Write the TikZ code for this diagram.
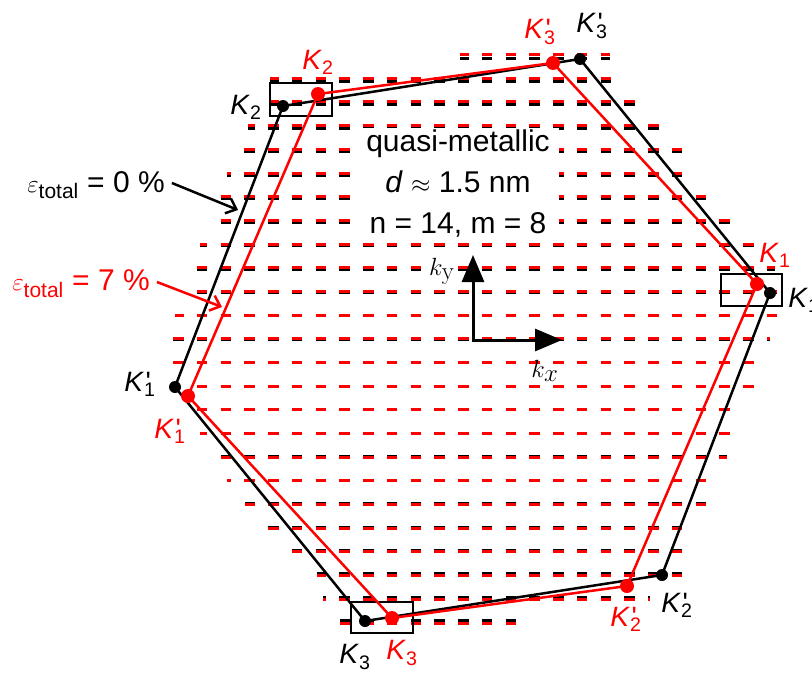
\documentclass[tikz,border=0pt]{standalone}
\usepackage{amsmath}
\usepackage[no-math]{fontspec}
\setmainfont{Liberation Sans}
\usetikzlibrary{arrows.meta}

% labels of the K points
\newcommand{\Kn}[1]{\textit{K}$_{\text{#1}}$}
\newcommand{\Kp}[1]{\textit{K}\rlap{\kern1.5pt\textquotesingle}$_{\text{#1}}$}

\tikzset{
  lab/.style={font=\fontsize{28}{34}\selectfont, inner sep=0pt},
  bcut/.style={black, line width=3pt, dash pattern=on 10.5pt off 13.25pt},
  rcut/.style={red, line width=3pt, dash pattern=on 10.5pt off 13.25pt},
  bzone/.style={black, line width=2.5pt, line join=round},
  rzone/.style={red, line width=2.5pt, line join=round},
  bdot/.style={circle, fill=black, inner sep=0pt, minimum size=12pt},
  rdot/.style={circle, fill=red, inner sep=0pt, minimum size=14pt},
  markbox/.style={black, line width=1.8pt},
  epsarrow/.style={line width=2.5pt, -{Straight Barb[length=9pt,width=16pt]}},
  axisarrow/.style={line width=3pt, {Triangle[length=27pt,width=22pt]}-{Triangle[length=27pt,width=22pt]}}
}

\begin{document}
\begin{tikzpicture}[x=1pt, y=-1pt]
    \useasboundingbox (0,0) rectangle (812,675);

    % Lignes de coupure (noir : 0 %, rouge : 7 %)
    \foreach \i/\xl/\xr in {0/460/610, 1/270/618, 2/270/640, 3/248/662, 4/243/682,
        5/227/688, 6/220/712, 7/220/735, 8/200/757, 9/195/775, 10/195/780,
        11/175/780, 12/170/770, 13/172/765, 14/190/758, 15/197/738, 16/200/735,
        17/220/727, 18/227/712, 19/245/712, 20/268/688, 21/292/688, 22/317/682,
        23/323/650, 24/340/520} {
        \pgfmathsetmacro\yb{58+\i*23.45}
        \pgfmathsetmacro\yr{400+(\yb-400)*1.01}
        \pgfmathsetmacro\ph{\xl-149.25}
        \draw[bcut, dash phase=\ph pt] (\xl,\yb) -- (\xr,\yb);
        \draw[rcut, dash phase=\ph pt] (\xl,\yr) -- (\xr,\yr);
    }

    % Points K (0 %)
    \coordinate (bK2) at (283,106);
    \coordinate (bK3p) at (580,59);
    \coordinate (bK1) at (770,293);
    \coordinate (bK2p) at (662,575);
    \coordinate (bK3) at (365,621);
    \coordinate (bK1p) at (175,387);

    % Points K (7 %)
    \coordinate (rK2) at (318,94);
    \coordinate (rK3p) at (553,63);
    \coordinate (rK1) at (757,284);
    \coordinate (rK2p) at (627,586);
    \coordinate (rK3) at (392,618);
    \coordinate (rK1p) at (188,396);

    % Cadres autour des points K
    \draw[markbox] (270,83) rectangle (332,116);
    \draw[markbox] (721,274) rectangle (782,306);
    \draw[markbox] (351,602) rectangle (413,633);

    % Zone de Brillouin
    \draw[bzone] (bK2) -- (bK3p) -- (bK1) -- (bK2p) -- (bK3) -- (bK1p) -- cycle;
    \foreach \p in {bK2, bK3p, bK1, bK2p, bK3, bK1p}
        \node[bdot] (d\p) at (\p) {};
    \draw[rzone] (rK2) -- (rK3p) -- (rK1) -- (rK2p) -- (rK3) -- (rK1p) -- cycle;
    \foreach \p in {rK2, rK3p, rK1, rK2p, rK3, rK1p}
        \node[rdot] (d\p) at (\p) {};

    % Etiquettes
    \node[lab] (lbK2) at (246,107) {\Kn{2}};
    \node[lab, red] (lrK2) at (318,62) {\Kn{2}};
    \node[lab, red] (lrK3p) at (540,32) {\Kp{3}};
    \node[lab] (lbK3p) at (592,26) {\Kp{3}};
    \node[lab, red] (lrK1) at (775,255) {\Kn{1}};
    \node[lab] (lbK1) at (804,300) {\Kn{1}};
    \node[lab] (lbK1p) at (140,384) {\Kp{1}};
    \node[lab, red] (lrK1p) at (170,431) {\Kp{1}};
    \node[lab] (lbK3) at (355,657) {\Kn{3}};
    \node[lab, red] (lrK3) at (402,653) {\Kn{3}};
    \node[lab, red] (lrK2p) at (626,619) {\Kp{2}};
    \node[lab] (lbK2p) at (677,605) {\Kp{2}};

    % Texte central
    \node[lab, fill=white, align=center, inner xsep=9pt, inner ysep=2pt,
          font=\fontsize{30}{41}\selectfont] (info) at (458,184)
          {quasi-metallic\\ \textit{d} $\approx$ 1.5 nm\\ n = 14, m = 8};

    % Axes
    \coordinate (kytip) at (473,255);
    \coordinate (kxtip) at (562,340);
    \draw[axisarrow] (kytip) |- (kxtip);
    \node[lab, fill=white, inner sep=1pt, font=\fontsize{36}{42}\selectfont] (ky) at (442,271) {$k_{\mathrm{y}}$};
    \node[lab, inner sep=1pt, font=\fontsize{36}{42}\selectfont] (kx) at (545,371) {$k_x$};

    % Deformation
    \node[lab, font=\fontsize{30}{36}\selectfont] (eps0) at (96,185) {$\varepsilon_{\text{total}}$ = 0 \%};
    \coordinate (eps0tip) at (238,210);
    \draw[epsarrow] (eps0.east) ++(7,-2) -- (eps0tip);
    \node[lab, red, font=\fontsize{30}{36}\selectfont] (eps7) at (81,284) {$\varepsilon_{\text{total}}$ = 7 \%};
    \coordinate (eps7tip) at (222,307);
    \draw[epsarrow, red] (eps7.east) ++(7,-2) -- (eps7tip);
\end{tikzpicture}
\end{document}
